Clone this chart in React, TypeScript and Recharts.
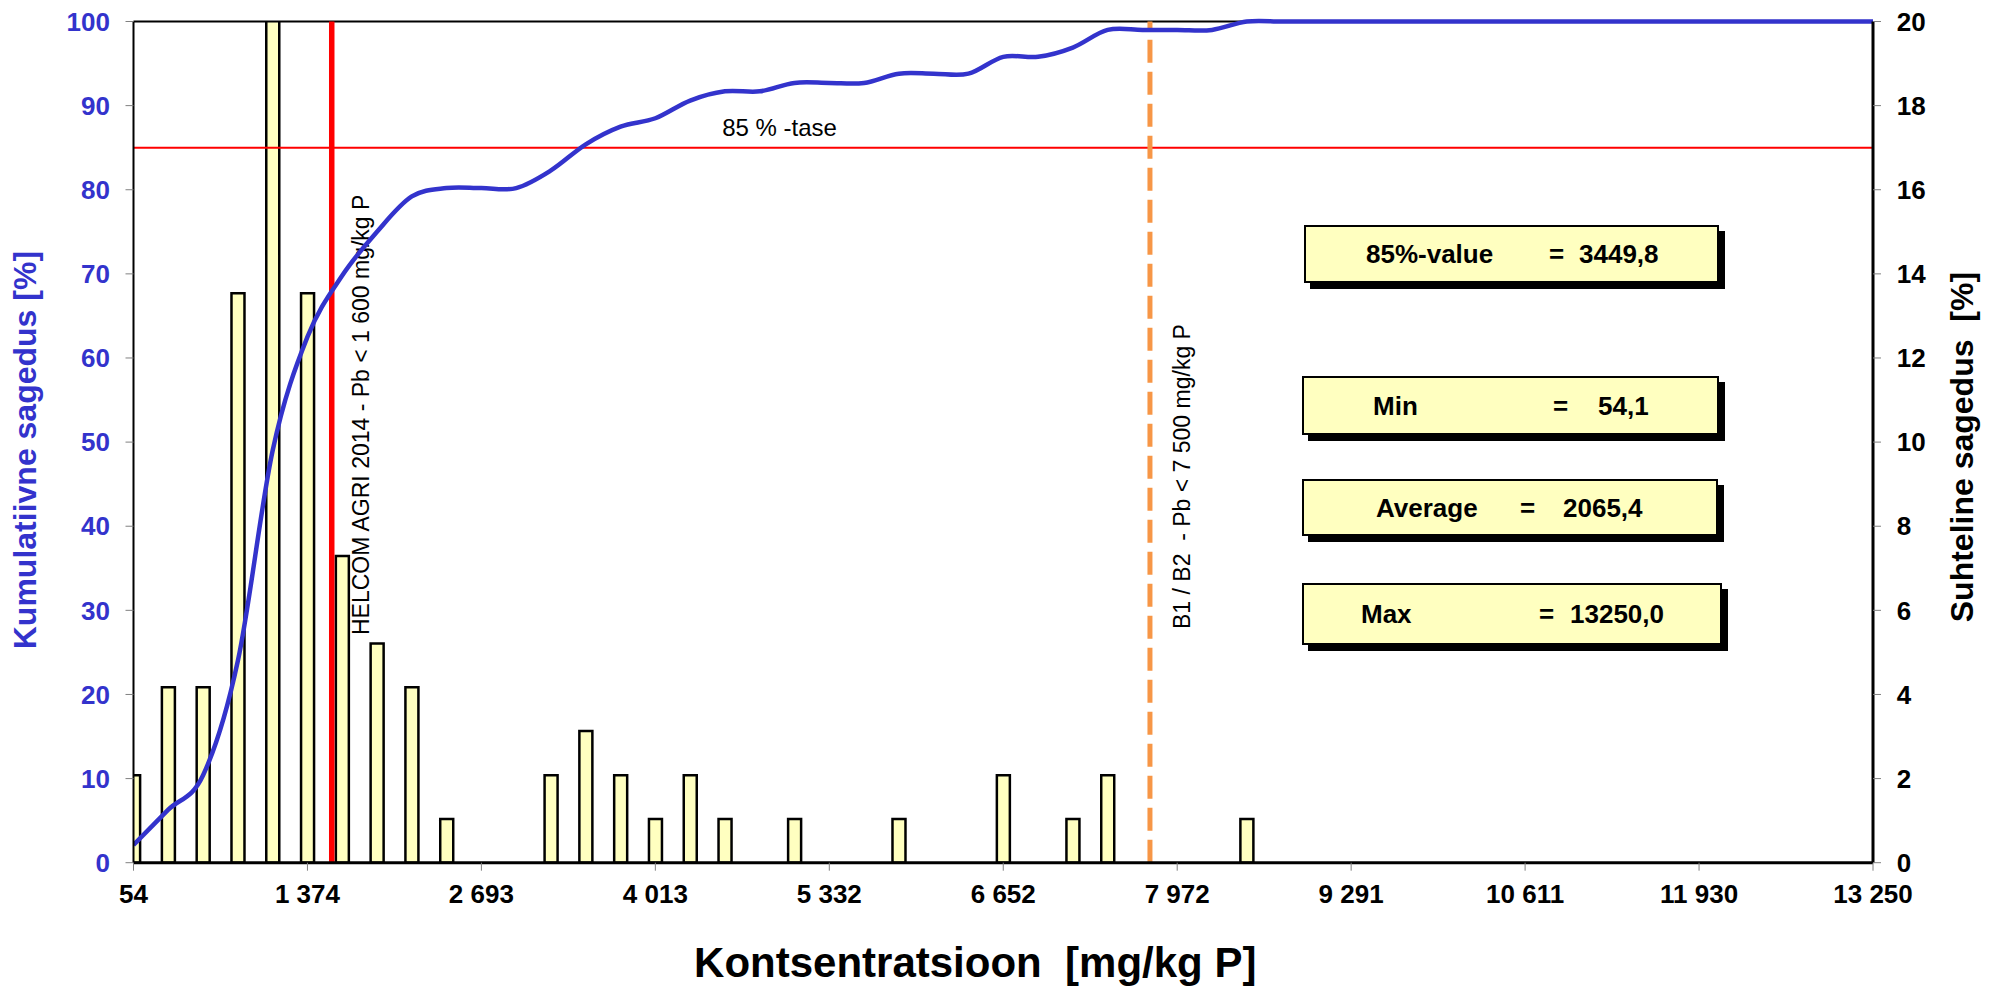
import React from 'react';
import { ComposedChart, Bar, Line, XAxis, YAxis, ReferenceLine } from 'recharts';

// histogram bin centres (mg/kg P)
const binCenters = [
  54.1, 318.0, 581.9, 845.9, 1109.8, 1373.7, 1637.6, 1901.5, 2165.4, 2429.4,
  2693.3, 2957.2, 3221.1, 3485.0, 3749.0, 4012.9, 4276.8, 4540.7, 4804.6, 5068.5,
  5332.5, 5596.4, 5860.3, 6124.2, 6388.1, 6652.1, 6916.0, 7179.9, 7443.8, 7707.7,
  7971.6, 8235.6, 8499.5, 8763.4, 9027.3, 9291.2, 9555.2, 9819.1, 10083.0, 10346.9,
  10610.8, 10874.7, 11138.7, 11402.6, 11666.5, 11930.4, 12194.3, 12458.3, 12722.2, 12986.1,
  13250.0,
];

// relative frequency, % (right axis)
const relFreq = [
  2.08, 4.17, 4.17, 13.54, 25.0, 13.54, 7.29, 5.21, 4.17, 1.04,
  0, 0, 2.08, 3.13, 2.08, 1.04, 2.08, 1.04, 0, 1.04,
  0, 0, 1.04, 0, 0, 2.08, 0, 1.04, 2.08, 0,
  0, 0, 1.04, 0, 0, 0, 0, 0, 0, 0,
  0, 0, 0, 0, 0, 0, 0, 0, 0, 0,
  0,
];

// cumulative frequency, % (left axis)
const cumFreq = [
  2.1, 6.3, 10.4, 24.0, 49.0, 62.5, 69.8, 75.0, 79.2, 80.2,
  80.2, 80.2, 82.3, 85.4, 87.5, 88.5, 90.6, 91.7, 91.7, 92.7,
  92.7, 92.7, 93.8, 93.8, 93.8, 95.8, 95.8, 96.9, 99.0, 99.0,
  99.0, 99.0, 100, 100, 100, 100, 100, 100, 100, 100,
  100, 100, 100, 100, 100, 100, 100, 100, 100, 100,
  100,
];

const xTicks = [54.1, 1373.7, 2693.3, 4012.9, 5332.5, 6652.1, 7971.6, 9291.2, 10610.8, 11930.4, 13250];
const xTickLabels = ['54', '1 374', '2 693', '4 013', '5 332', '6 652', '7 972', '9 291', '10 611', '11 930', '13 250'];
const leftTicks = [0, 10, 20, 30, 40, 50, 60, 70, 80, 90, 100];
const rightTicks = [0, 2, 4, 6, 8, 10, 12, 14, 16, 18, 20];

const helcomLimit = 1558;
const b1b2Limit = 7765;
const level85 = 85;

const statLabels = ['85%-value', 'Min', 'Average', 'Max'];
const statValues = ['3449,8', '54,1', '2065,4', '13250,0'];

const FONT = "'Liberation Sans', Arial, Helvetica, sans-serif";
const BLUE = '#3333CC';

const rows = binCenters.map((x, i) => ({ x, rel: relFreq[i], cum: cumFreq[i] }));

// Excel-like smoothed line (Catmull-Rom as bezier)
function excelSmooth(context: any) {
  let pts: number[][] = [];
  return {
    areaStart() {},
    areaEnd() {},
    lineStart() {
      pts = [];
    },
    lineEnd() {
      if (!pts.length) return;
      context.moveTo(pts[0][0], pts[0][1]);
      for (let i = 0; i < pts.length - 1; i++) {
        const p0 = pts[Math.max(i - 1, 0)];
        const p1 = pts[i];
        const p2 = pts[i + 1];
        const p3 = pts[Math.min(i + 2, pts.length - 1)];
        context.bezierCurveTo(
          p1[0] + (p2[0] - p0[0]) / 6,
          p1[1] + (p2[1] - p0[1]) / 6,
          p2[0] - (p3[0] - p1[0]) / 6,
          p2[1] - (p3[1] - p1[1]) / 6,
          p2[0],
          p2[1],
        );
      }
    },
    point(x: number, y: number) {
      pts.push([+x, +y]);
    },
  };
}

function VLabel(props: any) {
  const { viewBox, text, dx, bottom } = props;
  const x = viewBox.x + dx;
  const y = bottom;
  return (
    <text x={x} y={y} transform={`rotate(-90 ${x} ${y})`} dominantBaseline="central"
      fontSize={23} fill="#000" fontFamily={FONT} style={{ whiteSpace: 'pre' }}>
      {text}
    </text>
  );
}

function LevelLabel(props: any) {
  const { viewBox } = props;
  return (
    <text x={viewBox.x + 646} y={viewBox.y - 12} textAnchor="middle" fontSize={24} fill="#000" fontFamily={FONT}>
      85 % -tase
    </text>
  );
}

function LeftTitle(props: any) {
  const { viewBox } = props;
  const x = viewBox.x + 36;
  const y = viewBox.y + viewBox.height / 2 + 8;
  return (
    <text x={x} y={y} transform={`rotate(-90 ${x} ${y})`} textAnchor="middle" fontSize={32}
      fontWeight="bold" fill={BLUE} fontFamily={FONT}>
      Kumulatiivne sagedus [%]
    </text>
  );
}

function RightTitle(props: any) {
  const { viewBox } = props;
  const x = viewBox.x + 100;
  const y = viewBox.y + viewBox.height / 2 + 5;
  return (
    <text x={x} y={y} transform={`rotate(-90 ${x} ${y})`} textAnchor="middle" fontSize={32}
      fontWeight="bold" fill="#000" fontFamily={FONT} style={{ whiteSpace: 'pre' }}>
      {'Suhteline sagedus  [%]'}
    </text>
  );
}

function BottomTitle(props: any) {
  const { viewBox } = props;
  return (
    <text x={viewBox.x + viewBox.width / 2 - 28} y={977} textAnchor="middle" fontSize={42}
      fontWeight="bold" fill="#000" fontFamily={FONT} style={{ whiteSpace: 'pre' }}>
      {'Kontsentratsioon  [mg/kg P]'}
    </text>
  );
}

// stat box layout: [left, top, width, height, labelX, eqX, valueX]
const boxGeom = [
  [1304, 225, 415, 58, 62, 245, 275],
  [1302, 376, 417, 59, 71, 251, 296],
  [1302, 479, 416, 57, 74, 218, 261],
  [1302, 583, 420, 62, 59, 237, 268],
];

function StatBox({ i }: { i: number }) {
  const [left, top, w, h, lx, ex, vx] = boxGeom[i];
  const span = (x: number): React.CSSProperties => ({
    position: 'absolute', left: x, top: '50%', transform: 'translateY(-50%)', whiteSpace: 'pre',
  });
  return (
    <div style={{
      position: 'absolute', left, top, width: w, height: h, boxSizing: 'border-box',
      background: '#FFFFC0', border: '2px solid #000', boxShadow: '6px 6px 0 #000',
      fontFamily: FONT, fontWeight: 'bold', fontSize: 26, color: '#000',
    }}>
      <span style={span(lx - 2)}>{statLabels[i]}</span>
      <span style={span(ex - 2)}>=</span>
      <span style={span(vx - 2)}>{statValues[i]}</span>
    </div>
  );
}

export default function App() {
  const tickStyle = { fontFamily: FONT, fontWeight: 'bold', fontSize: 26 } as any;
  return (
    <div style={{ position: 'absolute', left: 0, top: 0, width: 1997, height: 989, background: '#fff' }}>
      <ComposedChart width={1997} height={989} data={rows}
        margin={{ top: 21.5, right: 0, bottom: 0, left: 0 }}>
        <XAxis dataKey="x" type="number" domain={[54.1, 13250]} ticks={xTicks} allowDataOverflow
          tickFormatter={(v: number) => xTickLabels[xTicks.indexOf(v)] ?? ''}
          height={126.3} tickSize={8} tickMargin={14}
          axisLine={{ stroke: '#000', strokeWidth: 3 }} tickLine={{ stroke: '#808080' }}
          tick={{ ...tickStyle, fill: '#000' }} interval={0}
          label={<BottomTitle />} />
        <YAxis yAxisId="left" orientation="left" width={133.5} domain={[0, 100]} ticks={leftTicks}
          tickSize={8} tickMargin={15.5} interval={0}
          axisLine={{ stroke: '#000', strokeWidth: 2 }} tickLine={{ stroke: '#808080' }}
          tick={{ ...tickStyle, fill: BLUE }} label={<LeftTitle />} />
        <YAxis yAxisId="right" orientation="right" width={124} domain={[0, 20]} ticks={rightTicks}
          allowDataOverflow tickSize={8} tickMargin={15.7} interval={0}
          axisLine={{ stroke: '#000', strokeWidth: 3 }} tickLine={{ stroke: '#808080' }}
          tick={{ ...tickStyle, fill: '#000' }} label={<RightTitle />} />
        <Bar yAxisId="right" dataKey="rel" barSize={13} fill="#FFFFC0" stroke="#000" strokeWidth={2.5}
          isAnimationActive={false} />
        <ReferenceLine yAxisId="left" y={100} stroke="#000" strokeWidth={2} />
        <ReferenceLine yAxisId="left" y={level85} stroke="#FF0000" strokeWidth={2} label={<LevelLabel />} />
        <ReferenceLine yAxisId="left" x={helcomLimit} stroke="#FF0000" strokeWidth={5.5}
          label={<VLabel text="HELCOM AGRI 2014 - Pb < 1 600 mg/kg P" dx={29.5} bottom={635} />} />
        <ReferenceLine yAxisId="left" x={b1b2Limit} stroke="#F79646" strokeWidth={5} strokeDasharray="23 9"
          label={<VLabel text={'B1 / B2  - Pb < 7 500 mg/kg P'} dx={32} bottom={629} />} />
        <Line yAxisId="left" dataKey="cum" type={excelSmooth as any} stroke={BLUE} strokeWidth={4.5}
          dot={false} activeDot={false} isAnimationActive={false} />
      </ComposedChart>
      {statLabels.map((_, i) => <StatBox key={i} i={i} />)}
    </div>
  );
}
